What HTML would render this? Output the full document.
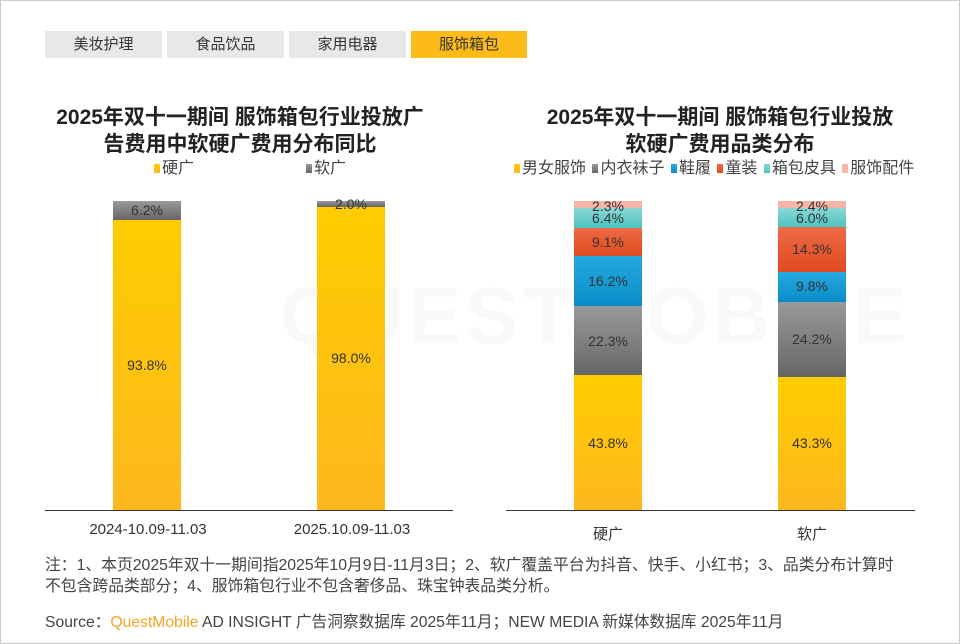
<!DOCTYPE html>
<html><head><meta charset="utf-8"><style>
*{margin:0;padding:0;box-sizing:border-box}
body{width:960px;height:644px;background:#fff;position:relative;overflow:hidden;font-family:"Liberation Sans","Noto Sans CJK SC",sans-serif;color:#333}
.frame{position:absolute;left:0;top:0;width:960px;height:644px;border:1px solid #ccc}
.a{position:absolute;white-space:nowrap}
.tab{position:absolute;top:31px;height:27px;background:#e8e8e8;font-size:15px;line-height:27px;text-align:center;color:#333}
.title{position:absolute;font-size:20px;font-weight:bold;text-align:center;line-height:27px;color:#222}
.bar{position:absolute}
.lbl{position:absolute;font-size:14px;color:#333;text-align:center;width:68px}
.leg{font-size:16px;color:#444}
.sq{display:inline-block;width:6px;height:9px;margin-right:2px;vertical-align:0}
.y{background:linear-gradient(#ffcc00,#fdb81e)}
.g{background:linear-gradient(#9a9a9a,#666)}
.b{background:linear-gradient(#26a8e0,#0a8cc8)}
.r{background:linear-gradient(#ef6a45,#e04a20)}
.t{background:linear-gradient(#8ad8d6,#4cc4c0)}
.p{background:#f6b5a6}
.axis{position:absolute;height:1px;background:#333;top:510px}
</style></head><body>
<div class="frame"></div>
<div class="a" style="left:280px;top:270px;font-size:80px;font-weight:bold;color:#f9f9f9;letter-spacing:4px">QUESTMOBILE</div>
<div class="tab" style="left:45px;width:117px">美妆护理</div>
<div class="tab" style="left:167px;width:117px">食品饮品</div>
<div class="tab" style="left:289px;width:117px">家用电器</div>
<div class="tab" style="left:411px;width:116px;background:#fdbb1a">服饰箱包</div>

<div class="title" style="left:20px;width:440px;top:104px;font-size:21px">2025年双十一期间 服饰箱包行业投放广<br>告费用中软硬广费用分布同比</div>
<div class="title" style="left:500px;width:440px;top:104px;font-size:21px">2025年双十一期间 服饰箱包行业投放<br>软硬广费用品类分布</div>

<div class="a leg" style="left:154px;top:154px"><span class="sq y"></span>硬广</div>
<div class="a leg" style="left:306px;top:154px"><span class="sq g"></span>软广</div>
<div class="a leg" style="left:514px;top:154px;word-spacing:2px"><span class="sq y"></span>男女服饰 <span class="sq g"></span>内衣袜子 <span class="sq b"></span>鞋履 <span class="sq r"></span>童装 <span class="sq t"></span>箱包皮具 <span class="sq p"></span>服饰配件</div>

<!-- left bars -->
<div class="bar g" style="left:113px;top:201px;width:68px;height:19px"></div>
<div class="bar y" style="left:113px;top:220px;width:68px;height:290px"></div>
<div class="lbl" style="left:113px;top:202px">6.2%</div>
<div class="lbl" style="left:113px;top:357px">93.8%</div>
<div class="bar g" style="left:317px;top:201px;width:68px;height:6px"></div>
<div class="bar y" style="left:317px;top:207px;width:68px;height:303px"></div>
<div class="lbl" style="left:317px;top:196px">2.0%</div>
<div class="lbl" style="left:317px;top:350px">98.0%</div>
<div class="axis" style="left:45px;width:408px"></div>
<div class="a" style="left:58px;top:521px;width:180px;text-align:center;font-size:15px">2024-10.09-11.03</div>
<div class="a" style="left:262px;top:521px;width:180px;text-align:center;font-size:15px">2025.10.09-11.03</div>

<!-- right bars -->
<div class="bar p" style="left:574px;top:201px;width:68px;height:7px"></div>
<div class="bar t" style="left:574px;top:208px;width:68px;height:20px"></div>
<div class="bar r" style="left:574px;top:228px;width:68px;height:28px"></div>
<div class="bar b" style="left:574px;top:256px;width:68px;height:50px"></div>
<div class="bar g" style="left:574px;top:306px;width:68px;height:69px"></div>
<div class="bar y" style="left:574px;top:375px;width:68px;height:135px"></div>
<div class="lbl" style="left:574px;top:198px">2.3%</div>
<div class="lbl" style="left:574px;top:210px">6.4%</div>
<div class="lbl" style="left:574px;top:234px">9.1%</div>
<div class="lbl" style="left:574px;top:273px">16.2%</div>
<div class="lbl" style="left:574px;top:333px">22.3%</div>
<div class="lbl" style="left:574px;top:435px">43.8%</div>

<div class="bar p" style="left:778px;top:201px;width:68px;height:7px"></div>
<div class="bar t" style="left:778px;top:208px;width:68px;height:19px"></div>
<div class="bar r" style="left:778px;top:227px;width:68px;height:45px"></div>
<div class="bar b" style="left:778px;top:272px;width:68px;height:30px"></div>
<div class="bar g" style="left:778px;top:302px;width:68px;height:75px"></div>
<div class="bar y" style="left:778px;top:377px;width:68px;height:133px"></div>
<div class="lbl" style="left:778px;top:198px">2.4%</div>
<div class="lbl" style="left:778px;top:210px">6.0%</div>
<div class="lbl" style="left:778px;top:241px">14.3%</div>
<div class="lbl" style="left:778px;top:278px">9.8%</div>
<div class="lbl" style="left:778px;top:331px">24.2%</div>
<div class="lbl" style="left:778px;top:435px">43.3%</div>
<div class="axis" style="left:506px;width:409px"></div>
<div class="a" style="left:574px;top:523px;width:68px;text-align:center;font-size:15px">硬广</div>
<div class="a" style="left:778px;top:523px;width:68px;text-align:center;font-size:15px">软广</div>

<div class="a" style="left:45px;top:555px;font-size:15.8px;line-height:21px;color:#444">注：1、本页2025年双十一期间指2025年10月9日-11月3日；2、软广覆盖平台为抖音、快手、小红书；3、品类分布计算时<br>不包含跨品类部分；4、服饰箱包行业不包含奢侈品、珠宝钟表品类分析。</div>
<div class="a" style="left:45px;top:609px;font-size:15.7px;color:#444">Source：<span style="color:#f5a623">QuestMobile</span> AD INSIGHT 广告洞察数据库 2025年11月；NEW MEDIA 新媒体数据库 2025年11月</div>
</body></html>
